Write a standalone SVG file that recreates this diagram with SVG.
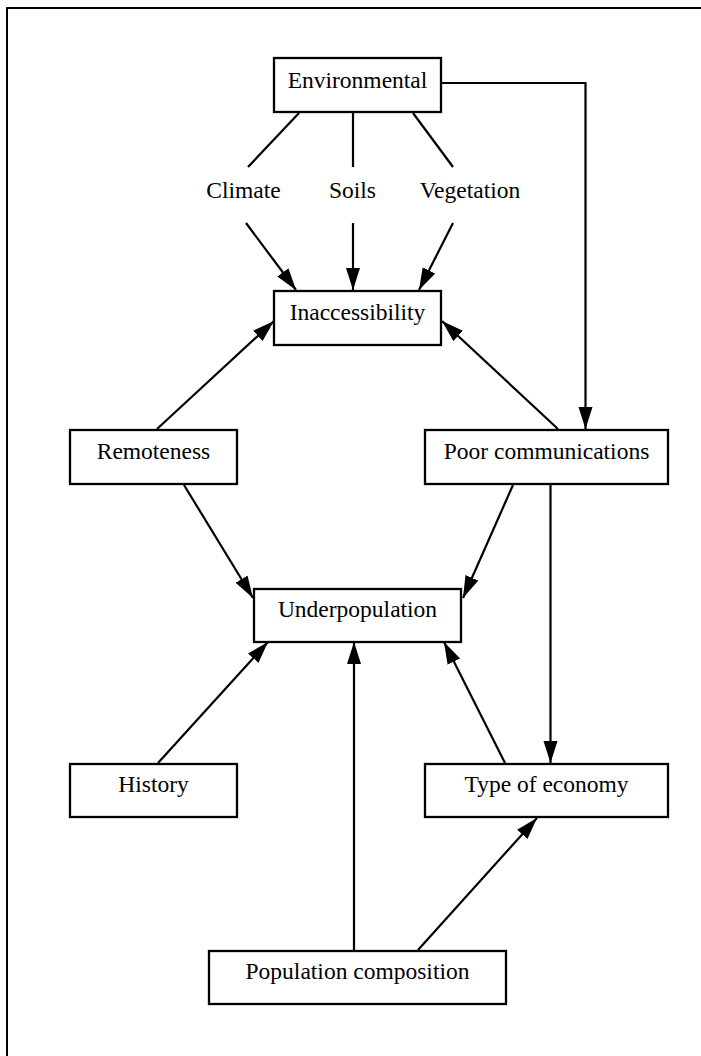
<svg xmlns="http://www.w3.org/2000/svg" width="701" height="1056" viewBox="0 0 701 1056">
<style>
.box{fill:#fff;stroke:#000;stroke-width:2.3}
.t{font-family:"Liberation Serif","Times New Roman",serif;font-size:23.5px;fill:#000;text-anchor:middle}
.e{fill:none;stroke:#000;stroke-width:2.2}
.a{marker-end:url(#ah)}
</style>
<defs>
<marker id="ah" markerUnits="userSpaceOnUse" markerWidth="24" markerHeight="16" refX="22" refY="7" orient="auto">
<path d="M0,0 L22,7 L0,14 z" fill="#000"/>
</marker>
</defs>
<rect width="701" height="1056" fill="#fff"/>
<path d="M7,1056 V8 H701" fill="none" stroke="#000" stroke-width="2"/>
<g id="connectors">
<line class="e" x1="299" y1="113" x2="248" y2="167"/>
<line class="e" x1="353" y1="113" x2="353" y2="167"/>
<line class="e" x1="413" y1="113" x2="453" y2="167"/>
<line class="e a" x1="246" y1="223" x2="296" y2="290"/>
<line class="e a" x1="353" y1="223" x2="353" y2="290"/>
<line class="e a" x1="453" y1="223" x2="419" y2="290"/>
<path class="e a" d="M442,83 H585.5 V429"/>
<line class="e a" x1="157" y1="429" x2="274" y2="321"/>
<line class="e a" x1="558" y1="429" x2="442" y2="321"/>
<line class="e a" x1="184" y1="485" x2="253" y2="598"/>
<line class="e a" x1="513" y1="485" x2="463" y2="598"/>
<line class="e a" x1="550.5" y1="485" x2="550.5" y2="763"/>
<line class="e a" x1="158" y1="763" x2="268" y2="642"/>
<line class="e a" x1="354" y1="950" x2="354" y2="642"/>
<line class="e a" x1="505" y1="763" x2="444" y2="642"/>
<line class="e a" x1="418" y1="950" x2="537" y2="818"/>
</g>
<g id="environmental"><rect class="box" x="274" y="58" width="167" height="54"/><text class="t" x="357.5" y="88">Environmental</text></g>
<g id="climate"><text class="t" x="243.5" y="198">Climate</text></g>
<g id="soils"><text class="t" x="352.5" y="198">Soils</text></g>
<g id="vegetation"><text class="t" x="470" y="198">Vegetation</text></g>
<g id="inaccessibility"><rect class="box" x="274" y="291" width="167" height="54"/><text class="t" x="357.5" y="320">Inaccessibility</text></g>
<g id="remoteness"><rect class="box" x="70" y="430" width="167" height="54"/><text class="t" x="153.5" y="459">Remoteness</text></g>
<g id="poor-communications"><rect class="box" x="425" y="430" width="243" height="54"/><text class="t" x="546.5" y="459">Poor communications</text></g>
<g id="underpopulation"><rect class="box" x="254" y="589" width="207" height="53"/><text class="t" x="357.5" y="617">Underpopulation</text></g>
<g id="history"><rect class="box" x="70" y="764" width="167" height="53"/><text class="t" x="153.5" y="792">History</text></g>
<g id="type-of-economy"><rect class="box" x="425" y="764" width="243" height="53"/><text class="t" x="546.5" y="792">Type of economy</text></g>
<g id="population-composition"><rect class="box" x="209" y="951" width="297" height="53"/><text class="t" x="357.5" y="979">Population composition</text></g>
</svg>
